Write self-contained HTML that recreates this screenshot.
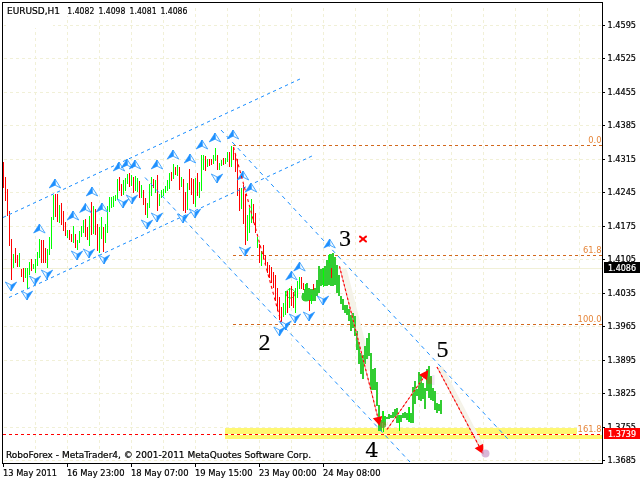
<!DOCTYPE html>
<html><head><meta charset="utf-8"><style>
html,body{margin:0;padding:0;background:#fff;width:640px;height:480px;overflow:hidden}
svg{display:block}
text{white-space:pre}
text.s{stroke:currentColor;stroke-width:0.2}
</style></head><body>
<svg width="640" height="480" viewBox="0 0 640 480" shape-rendering="crispEdges">
<g fill="#f1f0d7" color="#f1f0d7"><path d="M4 25.5H602" stroke-dasharray="3 3" stroke="currentColor" stroke-width="1"/><path d="M4 58.5H602" stroke-dasharray="3 3" stroke="currentColor" stroke-width="1"/><path d="M4 92.5H602" stroke-dasharray="3 3" stroke="currentColor" stroke-width="1"/><path d="M4 125.5H602" stroke-dasharray="3 3" stroke="currentColor" stroke-width="1"/><path d="M4 159.5H602" stroke-dasharray="3 3" stroke="currentColor" stroke-width="1"/><path d="M4 192.5H602" stroke-dasharray="3 3" stroke="currentColor" stroke-width="1"/><path d="M4 226.5H602" stroke-dasharray="3 3" stroke="currentColor" stroke-width="1"/><path d="M4 259.5H602" stroke-dasharray="3 3" stroke="currentColor" stroke-width="1"/><path d="M4 293.5H602" stroke-dasharray="3 3" stroke="currentColor" stroke-width="1"/><path d="M4 326.5H602" stroke-dasharray="3 3" stroke="currentColor" stroke-width="1"/><path d="M4 360.5H602" stroke-dasharray="3 3" stroke="currentColor" stroke-width="1"/><path d="M4 393.5H602" stroke-dasharray="3 3" stroke="currentColor" stroke-width="1"/><path d="M4 427.5H602" stroke-dasharray="3 3" stroke="currentColor" stroke-width="1"/><path d="M4 460.5H602" stroke-dasharray="3 3" stroke="currentColor" stroke-width="1"/><path d="M35.5 8V463" stroke-dasharray="3 3" stroke="currentColor"/><path d="M67.5 8V463" stroke-dasharray="3 3" stroke="currentColor"/><path d="M99.5 8V463" stroke-dasharray="3 3" stroke="currentColor"/><path d="M131.5 8V463" stroke-dasharray="3 3" stroke="currentColor"/><path d="M163.5 8V463" stroke-dasharray="3 3" stroke="currentColor"/><path d="M195.5 8V463" stroke-dasharray="3 3" stroke="currentColor"/><path d="M227.5 8V463" stroke-dasharray="3 3" stroke="currentColor"/><path d="M259.5 8V463" stroke-dasharray="3 3" stroke="currentColor"/><path d="M291.5 8V463" stroke-dasharray="3 3" stroke="currentColor"/><path d="M323.5 8V463" stroke-dasharray="3 3" stroke="currentColor"/><path d="M355.5 8V463" stroke-dasharray="3 3" stroke="currentColor"/><path d="M387.5 8V463" stroke-dasharray="3 3" stroke="currentColor"/><path d="M419.5 8V463" stroke-dasharray="3 3" stroke="currentColor"/><path d="M451.5 8V463" stroke-dasharray="3 3" stroke="currentColor"/><path d="M483.5 8V463" stroke-dasharray="3 3" stroke="currentColor"/><path d="M515.5 8V463" stroke-dasharray="3 3" stroke="currentColor"/><path d="M547.5 8V463" stroke-dasharray="3 3" stroke="currentColor"/><path d="M579.5 8V463" stroke-dasharray="3 3" stroke="currentColor"/></g>
<rect x="6" y="3" width="47" height="25" fill="#fff"/>
<rect x="6" y="3" width="186" height="13" fill="#fff"/>
<rect x="3" y="268" width="600" height="1" fill="#f1f0d7"/>
<rect x="225" y="428" width="377" height="11" fill="#fff873"/>
<g fill="#d2691e" color="#d2691e"><path d="M233 145.5H602" stroke-dasharray="3 3" stroke="currentColor" stroke-width="1"/><path d="M233 255.5H602" stroke-dasharray="3 3" stroke="currentColor" stroke-width="1"/><path d="M233 324.5H602" stroke-dasharray="3 3" stroke="currentColor" stroke-width="1"/></g>
<g shape-rendering="auto" stroke="#f5f3e9" stroke-linecap="round" fill="none"><line x1="344.5" y1="271.5" x2="369" y2="368" stroke-width="5.5"/><line x1="441" y1="369" x2="480.5" y2="445" stroke-width="5.5"/></g>
<g fill="#32cd32"><rect x="302" y="292.5" width="2" height="7.5"/><rect x="304" y="289" width="2" height="11.5"/><rect x="306" y="283" width="2" height="17"/><rect x="308" y="288" width="2" height="12"/><rect x="310" y="289" width="2" height="11.5"/><rect x="312" y="289" width="2" height="11.5"/><rect x="314" y="287.5" width="2" height="13.0"/><rect x="316" y="280" width="2" height="16"/><rect x="318" y="266" width="2" height="26.5"/><rect x="320" y="269" width="2" height="17"/><rect x="322" y="268" width="2" height="17"/><rect x="324" y="265.5" width="2" height="20.5"/><rect x="326" y="260" width="2" height="26"/><rect x="328" y="255" width="2" height="30"/><rect x="330" y="254" width="2" height="32"/><rect x="332" y="253" width="2" height="33"/><rect x="334" y="257" width="2" height="28"/><rect x="336" y="265" width="2" height="27.5"/><rect x="338" y="275" width="2" height="21.25"/><rect x="340" y="296" width="2" height="8"/><rect x="342" y="299" width="2" height="11"/><rect x="344" y="305" width="2" height="7.5"/><rect x="346" y="305" width="2" height="10"/><rect x="348" y="309" width="2" height="12"/><rect x="350" y="315" width="2" height="16"/><rect x="352" y="313" width="2" height="14.5"/><rect x="354" y="316" width="2" height="20"/><rect x="356" y="331" width="2" height="19"/><rect x="358" y="342" width="2" height="22"/><rect x="360" y="353" width="2" height="21"/><rect x="362" y="355" width="2" height="24"/><rect x="364" y="346" width="2" height="18"/><rect x="366" y="338" width="2" height="21"/><rect x="368" y="333" width="2" height="23"/><rect x="370" y="353" width="2" height="37"/><rect x="372" y="369" width="2" height="21"/><rect x="374" y="368" width="2" height="22"/><rect x="376" y="382" width="2" height="24"/><rect x="378" y="405" width="2" height="26"/><rect x="380" y="420" width="2" height="11"/><rect x="382" y="410.8" width="2" height="11.699999999999989"/><rect x="384" y="416" width="2" height="9"/><rect x="386" y="416.7" width="2" height="2.3000000000000114"/><rect x="388" y="414" width="2" height="5"/><rect x="390" y="415" width="2" height="3.3000000000000114"/><rect x="392" y="411.7" width="2" height="6.600000000000023"/><rect x="394" y="409" width="2" height="7.699999999999989"/><rect x="396" y="408" width="2" height="14.5"/><rect x="398" y="415" width="2" height="7.5"/><rect x="400" y="415" width="2" height="6.699999999999989"/><rect x="402" y="413.3" width="2" height="5.0"/><rect x="404" y="412" width="2" height="6.300000000000011"/><rect x="406" y="413" width="2" height="7"/><rect x="408" y="407" width="2" height="14.699999999999989"/><rect x="410" y="412.5" width="2" height="10.0"/><rect x="412" y="387" width="2" height="35.5"/><rect x="414" y="381" width="2" height="23"/><rect x="416" y="388.75" width="2" height="7.25"/><rect x="418" y="372" width="2" height="28"/><rect x="420" y="375" width="2" height="26"/><rect x="422" y="382.5" width="2" height="16.25"/><rect x="424" y="387.5" width="2" height="21.25"/><rect x="426" y="368.75" width="2" height="22.25"/><rect x="428" y="366" width="2" height="31.5"/><rect x="430" y="376" width="2" height="24"/><rect x="432" y="387.5" width="2" height="13.5"/><rect x="434" y="391" width="2" height="19"/><rect x="436" y="402.5" width="2" height="10.0"/><rect x="438" y="403.75" width="2" height="7.25"/><rect x="440" y="400" width="2" height="13.75"/></g>
<circle cx="306" cy="297" r="4.6" fill="#32cd32" shape-rendering="auto"/>
<circle cx="290.5" cy="293.5" r="4.5" fill="none" stroke="#32cd32" stroke-width="1" shape-rendering="auto"/>
<g fill="#00ff00"><rect x="13" y="254" width="1" height="14"/><rect x="19" y="253" width="1" height="14"/><rect x="25" y="268" width="1" height="10"/><rect x="27" y="268" width="1" height="21"/><rect x="29" y="262" width="1" height="13"/><rect x="33" y="264" width="1" height="5"/><rect x="35" y="259" width="1" height="14"/><rect x="37" y="252" width="1" height="14"/><rect x="39" y="239" width="1" height="19"/><rect x="47" y="249" width="1" height="19"/><rect x="49" y="237" width="1" height="18"/><rect x="51" y="217" width="1" height="32"/><rect x="53" y="195" width="1" height="25"/><rect x="59" y="205" width="1" height="18"/><rect x="67" y="230" width="1" height="8"/><rect x="73" y="226" width="1" height="17"/><rect x="77" y="240" width="1" height="10"/><rect x="79" y="231" width="1" height="12"/><rect x="81" y="226" width="1" height="11"/><rect x="83" y="220" width="1" height="13"/><rect x="89" y="216" width="1" height="30"/><rect x="93" y="206" width="1" height="28"/><rect x="99" y="227" width="1" height="26"/><rect x="101" y="217" width="1" height="22"/><rect x="105" y="224" width="1" height="19"/><rect x="107" y="206" width="1" height="27"/><rect x="109" y="197" width="1" height="15"/><rect x="111" y="197" width="1" height="11"/><rect x="113" y="196" width="1" height="11"/><rect x="115" y="195" width="1" height="6"/><rect x="117" y="179" width="1" height="21"/><rect x="123" y="180" width="1" height="15"/><rect x="125" y="178" width="1" height="13"/><rect x="127" y="174" width="1" height="10"/><rect x="131" y="175" width="1" height="11"/><rect x="135" y="176" width="1" height="15"/><rect x="137" y="178" width="1" height="14"/><rect x="141" y="185" width="1" height="13"/><rect x="147" y="203" width="1" height="15"/><rect x="149" y="184" width="1" height="24"/><rect x="151" y="177" width="1" height="19"/><rect x="155" y="180" width="1" height="13"/><rect x="159" y="194" width="1" height="12"/><rect x="161" y="190" width="1" height="8"/><rect x="163" y="189" width="1" height="7"/><rect x="165" y="186" width="1" height="7"/><rect x="167" y="180" width="1" height="11"/><rect x="169" y="173" width="1" height="16"/><rect x="173" y="164" width="1" height="15"/><rect x="177" y="165" width="1" height="11"/><rect x="181" y="177" width="1" height="10"/><rect x="187" y="183" width="1" height="27"/><rect x="195" y="178" width="1" height="29"/><rect x="199" y="182" width="1" height="16"/><rect x="201" y="155" width="1" height="36"/><rect x="203" y="155" width="1" height="15"/><rect x="207" y="159" width="1" height="8"/><rect x="213" y="155" width="1" height="9"/><rect x="215" y="148" width="1" height="13"/><rect x="219" y="163" width="1" height="7"/><rect x="221" y="160" width="1" height="6"/><rect x="225" y="158" width="1" height="6"/><rect x="227" y="152" width="1" height="10"/><rect x="231" y="146" width="1" height="21"/><rect x="241" y="188" width="1" height="21"/><rect x="247" y="215" width="1" height="26"/><rect x="249" y="208" width="1" height="25"/><rect x="251" y="199" width="1" height="24"/><rect x="257" y="237" width="1" height="11"/><rect x="261" y="251" width="1" height="15"/><rect x="283" y="303" width="1" height="14"/><rect x="285" y="291" width="1" height="24"/><rect x="289" y="288" width="1" height="20"/><rect x="295" y="288" width="1" height="25"/><rect x="297" y="281" width="1" height="17"/><rect x="299" y="277" width="1" height="12"/><rect x="305" y="284" width="1" height="6"/><rect x="311" y="295" width="1" height="9"/><rect x="323" y="268" width="1" height="19"/><rect x="329" y="254" width="1" height="9"/><rect x="383" y="411" width="1" height="21"/><rect x="399" y="415" width="1" height="16"/><rect x="409" y="407" width="1" height="15"/></g>
<g fill="#ff0000"><rect x="3" y="162" width="1" height="26"/><rect x="5" y="177" width="1" height="24"/><rect x="7" y="189" width="1" height="27"/><rect x="9" y="211" width="1" height="35"/><rect x="11" y="239" width="1" height="41"/><rect x="15" y="248" width="1" height="15"/><rect x="17" y="255" width="1" height="12"/><rect x="21" y="269" width="1" height="8"/><rect x="23" y="268" width="1" height="14"/><rect x="31" y="259" width="1" height="12"/><rect x="41" y="240" width="1" height="23"/><rect x="43" y="240" width="1" height="23"/><rect x="45" y="248" width="1" height="15"/><rect x="55" y="194" width="1" height="23"/><rect x="57" y="194" width="1" height="28"/><rect x="61" y="203" width="1" height="22"/><rect x="63" y="211" width="1" height="20"/><rect x="65" y="222" width="1" height="14"/><rect x="69" y="230" width="1" height="10"/><rect x="71" y="234" width="1" height="8"/><rect x="75" y="234" width="1" height="14"/><rect x="85" y="219" width="1" height="18"/><rect x="87" y="227" width="1" height="13"/><rect x="91" y="202" width="1" height="33"/><rect x="95" y="209" width="1" height="26"/><rect x="97" y="224" width="1" height="27"/><rect x="103" y="227" width="1" height="25"/><rect x="119" y="177" width="1" height="14"/><rect x="121" y="184" width="1" height="12"/><rect x="129" y="173" width="1" height="14"/><rect x="133" y="177" width="1" height="16"/><rect x="139" y="181" width="1" height="17"/><rect x="143" y="190" width="1" height="15"/><rect x="145" y="198" width="1" height="17"/><rect x="153" y="179" width="1" height="9"/><rect x="157" y="175" width="1" height="36"/><rect x="171" y="172" width="1" height="9"/><rect x="175" y="167" width="1" height="8"/><rect x="179" y="167" width="1" height="23"/><rect x="183" y="179" width="1" height="32"/><rect x="185" y="192" width="1" height="21"/><rect x="189" y="169" width="1" height="21"/><rect x="191" y="178" width="1" height="17"/><rect x="193" y="179" width="1" height="25"/><rect x="197" y="173" width="1" height="23"/><rect x="205" y="156" width="1" height="15"/><rect x="209" y="159" width="1" height="7"/><rect x="211" y="159" width="1" height="6"/><rect x="217" y="155" width="1" height="15"/><rect x="223" y="158" width="1" height="7"/><rect x="229" y="152" width="1" height="15"/><rect x="233" y="147" width="1" height="13"/><rect x="235" y="154" width="1" height="18"/><rect x="237" y="159" width="1" height="37"/><rect x="239" y="188" width="1" height="23"/><rect x="243" y="185" width="1" height="39"/><rect x="245" y="194" width="1" height="51"/><rect x="253" y="204" width="1" height="19"/><rect x="255" y="213" width="1" height="20"/><rect x="259" y="244" width="1" height="19"/><rect x="263" y="245" width="1" height="14"/><rect x="265" y="255" width="1" height="9"/><rect x="267" y="262" width="1" height="11"/><rect x="269" y="265" width="1" height="13"/><rect x="271" y="267" width="1" height="16"/><rect x="273" y="272" width="1" height="16"/><rect x="275" y="275" width="1" height="26"/><rect x="277" y="288" width="1" height="23"/><rect x="279" y="297" width="1" height="23"/><rect x="281" y="307" width="1" height="16"/><rect x="287" y="291" width="1" height="22"/><rect x="291" y="286" width="1" height="20"/><rect x="293" y="292" width="1" height="16"/><rect x="301" y="277" width="1" height="12"/><rect x="303" y="283" width="1" height="7"/><rect x="309" y="300" width="1" height="11"/><rect x="313" y="284" width="1" height="6"/><rect x="331" y="268" width="1" height="10"/></g>
<g shape-rendering="auto"><line x1="3" y1="217.5" x2="300" y2="79" stroke="#1e90ff" stroke-width="1" stroke-dasharray="3.31 3.31"/><line x1="9" y1="297.5" x2="312" y2="156" stroke="#1e90ff" stroke-width="1" stroke-dasharray="3.31 3.31"/><line x1="221" y1="130" x2="508.5" y2="439.7" stroke="#1e90ff" stroke-width="1" stroke-dasharray="4.09 4.09"/><line x1="145" y1="177.5" x2="410" y2="462" stroke="#1e90ff" stroke-width="1" stroke-dasharray="4.10 4.10"/></g>
<g shape-rendering="auto"><path d="M11.0 291.0L5.3 282.0L11.2 285.0Z" fill="#f4faff" stroke="#3aa0ff" stroke-width="0.9" stroke-linejoin="round"/><path d="M11.0 291.0L16.7 282.0L11.2 285.0Z" fill="#1e90ff" stroke="#1e90ff" stroke-width="0.6" stroke-linejoin="round"/><path d="M27.0 300.0L21.3 291.0L27.2 294.0Z" fill="#f4faff" stroke="#3aa0ff" stroke-width="0.9" stroke-linejoin="round"/><path d="M27.0 300.0L32.7 291.0L27.2 294.0Z" fill="#1e90ff" stroke="#1e90ff" stroke-width="0.6" stroke-linejoin="round"/><path d="M35.0 285.0L29.3 276.0L35.2 279.0Z" fill="#f4faff" stroke="#3aa0ff" stroke-width="0.9" stroke-linejoin="round"/><path d="M35.0 285.0L40.7 276.0L35.2 279.0Z" fill="#1e90ff" stroke="#1e90ff" stroke-width="0.6" stroke-linejoin="round"/><path d="M47.0 279.0L41.3 270.0L47.2 273.0Z" fill="#f4faff" stroke="#3aa0ff" stroke-width="0.9" stroke-linejoin="round"/><path d="M47.0 279.0L52.7 270.0L47.2 273.0Z" fill="#1e90ff" stroke="#1e90ff" stroke-width="0.6" stroke-linejoin="round"/><path d="M39.4 224.0L45.1 233.0L39.6 230.2Z" fill="#f4faff" stroke="#3aa0ff" stroke-width="0.9" stroke-linejoin="round"/><path d="M39.4 224.0L33.6 233.0L39.6 230.2Z" fill="#1e90ff" stroke="#1e90ff" stroke-width="0.6" stroke-linejoin="round"/><path d="M55.0 179.0L60.7 188.0L55.2 185.2Z" fill="#f4faff" stroke="#3aa0ff" stroke-width="0.9" stroke-linejoin="round"/><path d="M55.0 179.0L49.2 188.0L55.2 185.2Z" fill="#1e90ff" stroke="#1e90ff" stroke-width="0.6" stroke-linejoin="round"/><path d="M73.0 211.0L78.7 220.0L73.2 217.2Z" fill="#f4faff" stroke="#3aa0ff" stroke-width="0.9" stroke-linejoin="round"/><path d="M73.0 211.0L67.2 220.0L73.2 217.2Z" fill="#1e90ff" stroke="#1e90ff" stroke-width="0.6" stroke-linejoin="round"/><path d="M85.4 203.5L91.1 212.5L85.6 209.7Z" fill="#f4faff" stroke="#3aa0ff" stroke-width="0.9" stroke-linejoin="round"/><path d="M85.4 203.5L79.6 212.5L85.6 209.7Z" fill="#1e90ff" stroke="#1e90ff" stroke-width="0.6" stroke-linejoin="round"/><path d="M92.0 187.0L97.7 196.0L92.2 193.2Z" fill="#f4faff" stroke="#3aa0ff" stroke-width="0.9" stroke-linejoin="round"/><path d="M92.0 187.0L86.2 196.0L92.2 193.2Z" fill="#1e90ff" stroke="#1e90ff" stroke-width="0.6" stroke-linejoin="round"/><path d="M102.0 203.0L107.7 212.0L102.2 209.2Z" fill="#f4faff" stroke="#3aa0ff" stroke-width="0.9" stroke-linejoin="round"/><path d="M102.0 203.0L96.2 212.0L102.2 209.2Z" fill="#1e90ff" stroke="#1e90ff" stroke-width="0.6" stroke-linejoin="round"/><path d="M119.0 162.0L124.7 171.0L119.2 168.2Z" fill="#f4faff" stroke="#3aa0ff" stroke-width="0.9" stroke-linejoin="round"/><path d="M119.0 162.0L113.2 171.0L119.2 168.2Z" fill="#1e90ff" stroke="#1e90ff" stroke-width="0.6" stroke-linejoin="round"/><path d="M127.0 159.0L132.7 168.0L127.2 165.2Z" fill="#f4faff" stroke="#3aa0ff" stroke-width="0.9" stroke-linejoin="round"/><path d="M127.0 159.0L121.2 168.0L127.2 165.2Z" fill="#1e90ff" stroke="#1e90ff" stroke-width="0.6" stroke-linejoin="round"/><path d="M135.0 160.0L140.7 169.0L135.2 166.2Z" fill="#f4faff" stroke="#3aa0ff" stroke-width="0.9" stroke-linejoin="round"/><path d="M135.0 160.0L129.2 169.0L135.2 166.2Z" fill="#1e90ff" stroke="#1e90ff" stroke-width="0.6" stroke-linejoin="round"/><path d="M77.0 260.0L71.3 251.0L77.2 254.0Z" fill="#f4faff" stroke="#3aa0ff" stroke-width="0.9" stroke-linejoin="round"/><path d="M77.0 260.0L82.7 251.0L77.2 254.0Z" fill="#1e90ff" stroke="#1e90ff" stroke-width="0.6" stroke-linejoin="round"/><path d="M89.0 258.0L83.3 249.0L89.2 252.0Z" fill="#f4faff" stroke="#3aa0ff" stroke-width="0.9" stroke-linejoin="round"/><path d="M89.0 258.0L94.7 249.0L89.2 252.0Z" fill="#1e90ff" stroke="#1e90ff" stroke-width="0.6" stroke-linejoin="round"/><path d="M104.0 264.0L98.3 255.0L104.2 258.0Z" fill="#f4faff" stroke="#3aa0ff" stroke-width="0.9" stroke-linejoin="round"/><path d="M104.0 264.0L109.7 255.0L104.2 258.0Z" fill="#1e90ff" stroke="#1e90ff" stroke-width="0.6" stroke-linejoin="round"/><path d="M123.0 208.0L117.3 199.0L123.2 202.0Z" fill="#f4faff" stroke="#3aa0ff" stroke-width="0.9" stroke-linejoin="round"/><path d="M123.0 208.0L128.7 199.0L123.2 202.0Z" fill="#1e90ff" stroke="#1e90ff" stroke-width="0.6" stroke-linejoin="round"/><path d="M157.0 160.0L162.7 169.0L157.2 166.2Z" fill="#f4faff" stroke="#3aa0ff" stroke-width="0.9" stroke-linejoin="round"/><path d="M157.0 160.0L151.2 169.0L157.2 166.2Z" fill="#1e90ff" stroke="#1e90ff" stroke-width="0.6" stroke-linejoin="round"/><path d="M173.0 150.0L178.7 159.0L173.2 156.2Z" fill="#f4faff" stroke="#3aa0ff" stroke-width="0.9" stroke-linejoin="round"/><path d="M173.0 150.0L167.2 159.0L173.2 156.2Z" fill="#1e90ff" stroke="#1e90ff" stroke-width="0.6" stroke-linejoin="round"/><path d="M190.0 154.0L195.7 163.0L190.2 160.2Z" fill="#f4faff" stroke="#3aa0ff" stroke-width="0.9" stroke-linejoin="round"/><path d="M190.0 154.0L184.2 163.0L190.2 160.2Z" fill="#1e90ff" stroke="#1e90ff" stroke-width="0.6" stroke-linejoin="round"/><path d="M202.0 140.0L207.7 149.0L202.2 146.2Z" fill="#f4faff" stroke="#3aa0ff" stroke-width="0.9" stroke-linejoin="round"/><path d="M202.0 140.0L196.2 149.0L202.2 146.2Z" fill="#1e90ff" stroke="#1e90ff" stroke-width="0.6" stroke-linejoin="round"/><path d="M132.0 204.0L126.3 195.0L132.2 198.0Z" fill="#f4faff" stroke="#3aa0ff" stroke-width="0.9" stroke-linejoin="round"/><path d="M132.0 204.0L137.7 195.0L132.2 198.0Z" fill="#1e90ff" stroke="#1e90ff" stroke-width="0.6" stroke-linejoin="round"/><path d="M147.0 229.0L141.3 220.0L147.2 223.0Z" fill="#f4faff" stroke="#3aa0ff" stroke-width="0.9" stroke-linejoin="round"/><path d="M147.0 229.0L152.7 220.0L147.2 223.0Z" fill="#1e90ff" stroke="#1e90ff" stroke-width="0.6" stroke-linejoin="round"/><path d="M157.0 222.0L151.3 213.0L157.2 216.0Z" fill="#f4faff" stroke="#3aa0ff" stroke-width="0.9" stroke-linejoin="round"/><path d="M157.0 222.0L162.7 213.0L157.2 216.0Z" fill="#1e90ff" stroke="#1e90ff" stroke-width="0.6" stroke-linejoin="round"/><path d="M183.0 223.0L177.3 214.0L183.2 217.0Z" fill="#f4faff" stroke="#3aa0ff" stroke-width="0.9" stroke-linejoin="round"/><path d="M183.0 223.0L188.7 214.0L183.2 217.0Z" fill="#1e90ff" stroke="#1e90ff" stroke-width="0.6" stroke-linejoin="round"/><path d="M195.0 218.0L189.3 209.0L195.2 212.0Z" fill="#f4faff" stroke="#3aa0ff" stroke-width="0.9" stroke-linejoin="round"/><path d="M195.0 218.0L200.7 209.0L195.2 212.0Z" fill="#1e90ff" stroke="#1e90ff" stroke-width="0.6" stroke-linejoin="round"/><path d="M215.0 133.0L220.7 142.0L215.2 139.2Z" fill="#f4faff" stroke="#3aa0ff" stroke-width="0.9" stroke-linejoin="round"/><path d="M215.0 133.0L209.2 142.0L215.2 139.2Z" fill="#1e90ff" stroke="#1e90ff" stroke-width="0.6" stroke-linejoin="round"/><path d="M233.0 130.0L238.7 139.0L233.2 136.2Z" fill="#f4faff" stroke="#3aa0ff" stroke-width="0.9" stroke-linejoin="round"/><path d="M233.0 130.0L227.2 139.0L233.2 136.2Z" fill="#1e90ff" stroke="#1e90ff" stroke-width="0.6" stroke-linejoin="round"/><path d="M217.0 183.0L211.3 174.0L217.2 177.0Z" fill="#f4faff" stroke="#3aa0ff" stroke-width="0.9" stroke-linejoin="round"/><path d="M217.0 183.0L222.7 174.0L217.2 177.0Z" fill="#1e90ff" stroke="#1e90ff" stroke-width="0.6" stroke-linejoin="round"/><path d="M243.0 171.0L248.7 180.0L243.2 177.2Z" fill="#f4faff" stroke="#3aa0ff" stroke-width="0.9" stroke-linejoin="round"/><path d="M243.0 171.0L237.2 180.0L243.2 177.2Z" fill="#1e90ff" stroke="#1e90ff" stroke-width="0.6" stroke-linejoin="round"/><path d="M251.0 183.0L256.7 192.0L251.2 189.2Z" fill="#f4faff" stroke="#3aa0ff" stroke-width="0.9" stroke-linejoin="round"/><path d="M251.0 183.0L245.2 192.0L251.2 189.2Z" fill="#1e90ff" stroke="#1e90ff" stroke-width="0.6" stroke-linejoin="round"/><path d="M245.0 256.0L239.3 247.0L245.2 250.0Z" fill="#f4faff" stroke="#3aa0ff" stroke-width="0.9" stroke-linejoin="round"/><path d="M245.0 256.0L250.7 247.0L245.2 250.0Z" fill="#1e90ff" stroke="#1e90ff" stroke-width="0.6" stroke-linejoin="round"/><path d="M291.5 271.0L297.2 280.0L291.7 277.2Z" fill="#f4faff" stroke="#3aa0ff" stroke-width="0.9" stroke-linejoin="round"/><path d="M291.5 271.0L285.7 280.0L291.7 277.2Z" fill="#1e90ff" stroke="#1e90ff" stroke-width="0.6" stroke-linejoin="round"/><path d="M299.5 262.0L305.2 271.0L299.7 268.2Z" fill="#f4faff" stroke="#3aa0ff" stroke-width="0.9" stroke-linejoin="round"/><path d="M299.5 262.0L293.7 271.0L299.7 268.2Z" fill="#1e90ff" stroke="#1e90ff" stroke-width="0.6" stroke-linejoin="round"/><path d="M329.6 239.0L335.3 248.0L329.8 245.2Z" fill="#f4faff" stroke="#3aa0ff" stroke-width="0.9" stroke-linejoin="round"/><path d="M329.6 239.0L323.8 248.0L329.8 245.2Z" fill="#1e90ff" stroke="#1e90ff" stroke-width="0.6" stroke-linejoin="round"/><path d="M323.0 305.0L317.3 296.0L323.2 299.0Z" fill="#f4faff" stroke="#3aa0ff" stroke-width="0.9" stroke-linejoin="round"/><path d="M323.0 305.0L328.7 296.0L323.2 299.0Z" fill="#1e90ff" stroke="#1e90ff" stroke-width="0.6" stroke-linejoin="round"/><path d="M309.0 321.0L303.3 312.0L309.2 315.0Z" fill="#f4faff" stroke="#3aa0ff" stroke-width="0.9" stroke-linejoin="round"/><path d="M309.0 321.0L314.7 312.0L309.2 315.0Z" fill="#1e90ff" stroke="#1e90ff" stroke-width="0.6" stroke-linejoin="round"/><path d="M295.0 323.0L289.3 314.0L295.2 317.0Z" fill="#f4faff" stroke="#3aa0ff" stroke-width="0.9" stroke-linejoin="round"/><path d="M295.0 323.0L300.7 314.0L295.2 317.0Z" fill="#1e90ff" stroke="#1e90ff" stroke-width="0.6" stroke-linejoin="round"/><path d="M285.5 330.0L279.8 321.0L285.7 324.0Z" fill="#f4faff" stroke="#3aa0ff" stroke-width="0.9" stroke-linejoin="round"/><path d="M285.5 330.0L291.2 321.0L285.7 324.0Z" fill="#1e90ff" stroke="#1e90ff" stroke-width="0.6" stroke-linejoin="round"/><path d="M279.5 336.0L273.8 327.0L279.7 330.0Z" fill="#f4faff" stroke="#3aa0ff" stroke-width="0.9" stroke-linejoin="round"/><path d="M279.5 336.0L285.2 327.0L279.7 330.0Z" fill="#1e90ff" stroke="#1e90ff" stroke-width="0.6" stroke-linejoin="round"/></g>
<g shape-rendering="auto" fill="none"><line x1="233.5" y1="147" x2="281" y2="322" stroke="#ff0000" stroke-width="1.1" stroke-dasharray="3 3"/><line x1="339.5" y1="266.4" x2="378" y2="418" stroke="#f09090" stroke-width="1"/><line x1="339.5" y1="266.4" x2="378" y2="418" stroke="#ff0000" stroke-width="1.1" stroke-dasharray="2.3 2.3"/><line x1="387" y1="429.5" x2="424" y2="377" stroke="#f09090" stroke-width="1"/><line x1="387" y1="429.5" x2="424" y2="377" stroke="#ff0000" stroke-width="1.1" stroke-dasharray="2.3 2.3"/><line x1="437" y1="367" x2="479" y2="446" stroke="#f09090" stroke-width="1"/><line x1="437" y1="367" x2="479" y2="446" stroke="#ff0000" stroke-width="1.1" stroke-dasharray="2.3 2.3"/></g>
<g fill="#ff0000" shape-rendering="auto"><path d="M379.8 426.0L372.9 418.3L382.2 415.9Z"/><path d="M428.3 370.0L427.0 380.3L419.1 374.8Z"/><path d="M483.3 454.2L474.7 448.3L483.2 443.8Z"/></g>
<g shape-rendering="auto"><circle cx="383" cy="424.7" r="3.2" fill="#6b9a2a" opacity="0.85"/><rect x="427" y="377" width="5" height="7" rx="1.5" fill="#6b9a2a" opacity="0.85"/><circle cx="485.5" cy="453.5" r="4" fill="#c898c8" opacity="0.7"/><rect x="432" y="375" width="2.5" height="10" fill="#ecdcf0" opacity="0.7"/></g>
<text x="264.5" y="350" text-anchor="middle" font-size="24" font-family="'Liberation Serif','DejaVu Serif',serif" fill="#000" stroke="#000" stroke-width="0.15">2</text>
<text x="344.9" y="245.5" text-anchor="middle" font-size="24" font-family="'Liberation Serif','DejaVu Serif',serif" fill="#000" stroke="#000" stroke-width="0.15">3</text>
<text x="372" y="457" text-anchor="middle" font-size="21" font-family="'DejaVu Serif','Liberation Serif',serif" fill="#000" stroke="#000" stroke-width="0.15">4</text>
<text x="442.4" y="357" text-anchor="middle" font-size="24" font-family="'Liberation Serif','DejaVu Serif',serif" fill="#000" stroke="#000" stroke-width="0.15">5</text>
<g stroke="#ff0000" stroke-width="2" shape-rendering="auto" stroke-linecap="round"><line x1="360" y1="236.5" x2="366" y2="241.5"/><line x1="366" y1="236.5" x2="360" y2="241.5"/></g>
<rect x="587" y="133" width="15" height="12" fill="#fff"/>
<text x="601.5" y="143" text-anchor="end" fill="#e6863a" font-size="9.3" font-family="'DejaVu Sans Condensed','Liberation Sans',sans-serif">0.0</text>
<rect x="582" y="243" width="20" height="12" fill="#fff"/>
<text x="601.5" y="253" text-anchor="end" fill="#e6863a" font-size="9.3" font-family="'DejaVu Sans Condensed','Liberation Sans',sans-serif">61.8</text>
<rect x="577" y="312" width="25" height="12" fill="#fff"/>
<text x="601.5" y="322" text-anchor="end" fill="#e6863a" font-size="9.3" font-family="'DejaVu Sans Condensed','Liberation Sans',sans-serif">100.0</text>
<rect x="577" y="422" width="25" height="12" fill="#fff"/>
<text x="601.5" y="432" text-anchor="end" fill="#e6863a" font-size="9.3" font-family="'DejaVu Sans Condensed','Liberation Sans',sans-serif">161.8</text>
<rect x="225" y="434" width="377" height="1" fill="#fff"/>
<g fill="#ff0000" color="#ff0000"><path d="M3 434.5H602" stroke-dasharray="3 3" stroke="currentColor" stroke-width="1"/></g>
<g fill="#000"><rect x="2" y="2" width="601" height="1"/><rect x="2" y="463" width="601" height="1"/><rect x="2" y="2" width="1" height="462"/><rect x="602" y="2" width="1" height="462"/></g>
<g fill="#000"><rect x="603" y="25" width="2" height="1"/><rect x="603" y="58" width="2" height="1"/><rect x="603" y="92" width="2" height="1"/><rect x="603" y="125" width="2" height="1"/><rect x="603" y="159" width="2" height="1"/><rect x="603" y="192" width="2" height="1"/><rect x="603" y="226" width="2" height="1"/><rect x="603" y="259" width="2" height="1"/><rect x="603" y="293" width="2" height="1"/><rect x="603" y="326" width="2" height="1"/><rect x="603" y="360" width="2" height="1"/><rect x="603" y="393" width="2" height="1"/><rect x="603" y="427" width="2" height="1"/><rect x="603" y="460" width="2" height="1"/><rect x="3" y="464" width="1" height="3"/><rect x="67" y="464" width="1" height="3"/><rect x="131" y="464" width="1" height="3"/><rect x="195" y="464" width="1" height="3"/><rect x="259" y="464" width="1" height="3"/><rect x="323" y="464" width="1" height="3"/></g>
<text x="607.5" y="28" fill="#000" color="#000" class="s" font-size="9.3" font-family="'DejaVu Sans Condensed','Liberation Sans',sans-serif" textLength="28.5" lengthAdjust="spacingAndGlyphs">1.4595</text>
<text x="607.5" y="61" fill="#000" color="#000" class="s" font-size="9.3" font-family="'DejaVu Sans Condensed','Liberation Sans',sans-serif" textLength="28.5" lengthAdjust="spacingAndGlyphs">1.4525</text>
<text x="607.5" y="95" fill="#000" color="#000" class="s" font-size="9.3" font-family="'DejaVu Sans Condensed','Liberation Sans',sans-serif" textLength="28.5" lengthAdjust="spacingAndGlyphs">1.4455</text>
<text x="607.5" y="128" fill="#000" color="#000" class="s" font-size="9.3" font-family="'DejaVu Sans Condensed','Liberation Sans',sans-serif" textLength="28.5" lengthAdjust="spacingAndGlyphs">1.4385</text>
<text x="607.5" y="162" fill="#000" color="#000" class="s" font-size="9.3" font-family="'DejaVu Sans Condensed','Liberation Sans',sans-serif" textLength="28.5" lengthAdjust="spacingAndGlyphs">1.4315</text>
<text x="607.5" y="195" fill="#000" color="#000" class="s" font-size="9.3" font-family="'DejaVu Sans Condensed','Liberation Sans',sans-serif" textLength="28.5" lengthAdjust="spacingAndGlyphs">1.4245</text>
<text x="607.5" y="229" fill="#000" color="#000" class="s" font-size="9.3" font-family="'DejaVu Sans Condensed','Liberation Sans',sans-serif" textLength="28.5" lengthAdjust="spacingAndGlyphs">1.4175</text>
<text x="607.5" y="262" fill="#000" color="#000" class="s" font-size="9.3" font-family="'DejaVu Sans Condensed','Liberation Sans',sans-serif" textLength="28.5" lengthAdjust="spacingAndGlyphs">1.4105</text>
<text x="607.5" y="296" fill="#000" color="#000" class="s" font-size="9.3" font-family="'DejaVu Sans Condensed','Liberation Sans',sans-serif" textLength="28.5" lengthAdjust="spacingAndGlyphs">1.4035</text>
<text x="607.5" y="329" fill="#000" color="#000" class="s" font-size="9.3" font-family="'DejaVu Sans Condensed','Liberation Sans',sans-serif" textLength="28.5" lengthAdjust="spacingAndGlyphs">1.3965</text>
<text x="607.5" y="363" fill="#000" color="#000" class="s" font-size="9.3" font-family="'DejaVu Sans Condensed','Liberation Sans',sans-serif" textLength="28.5" lengthAdjust="spacingAndGlyphs">1.3895</text>
<text x="607.5" y="396" fill="#000" color="#000" class="s" font-size="9.3" font-family="'DejaVu Sans Condensed','Liberation Sans',sans-serif" textLength="28.5" lengthAdjust="spacingAndGlyphs">1.3825</text>
<text x="607.5" y="430" fill="#000" color="#000" class="s" font-size="9.3" font-family="'DejaVu Sans Condensed','Liberation Sans',sans-serif" textLength="28.5" lengthAdjust="spacingAndGlyphs">1.3755</text>
<text x="607.5" y="463" fill="#000" color="#000" class="s" font-size="9.3" font-family="'DejaVu Sans Condensed','Liberation Sans',sans-serif" textLength="28.5" lengthAdjust="spacingAndGlyphs">1.3685</text>
<rect x="604" y="262" width="36" height="11" fill="#000"/>
<text x="608" y="271" fill="#fff" color="#fff" class="s" font-size="9.3" font-family="'DejaVu Sans Condensed','Liberation Sans',sans-serif" textLength="28" lengthAdjust="spacingAndGlyphs">1.4086</text>
<rect x="604" y="428" width="36" height="11" fill="#ff0000"/>
<text x="608" y="437" fill="#fff" color="#fff" class="s" font-size="9.3" font-family="'DejaVu Sans Condensed','Liberation Sans',sans-serif" textLength="28" lengthAdjust="spacingAndGlyphs">1.3739</text>
<text x="3" y="476" fill="#000" color="#000" class="s" font-size="9.3" font-family="'DejaVu Sans Condensed','Liberation Sans',sans-serif" textLength="54" lengthAdjust="spacingAndGlyphs">13 May 2011</text>
<text x="67" y="476" fill="#000" color="#000" class="s" font-size="9.3" font-family="'DejaVu Sans Condensed','Liberation Sans',sans-serif" textLength="57.5" lengthAdjust="spacingAndGlyphs">16 May 23:00</text>
<text x="131" y="476" fill="#000" color="#000" class="s" font-size="9.3" font-family="'DejaVu Sans Condensed','Liberation Sans',sans-serif" textLength="57.5" lengthAdjust="spacingAndGlyphs">18 May 07:00</text>
<text x="195" y="476" fill="#000" color="#000" class="s" font-size="9.3" font-family="'DejaVu Sans Condensed','Liberation Sans',sans-serif" textLength="57.5" lengthAdjust="spacingAndGlyphs">19 May 15:00</text>
<text x="259" y="476" fill="#000" color="#000" class="s" font-size="9.3" font-family="'DejaVu Sans Condensed','Liberation Sans',sans-serif" textLength="57.5" lengthAdjust="spacingAndGlyphs">23 May 00:00</text>
<text x="323" y="476" fill="#000" color="#000" class="s" font-size="9.3" font-family="'DejaVu Sans Condensed','Liberation Sans',sans-serif" textLength="57.5" lengthAdjust="spacingAndGlyphs">24 May 08:00</text>
<text x="7" y="14" fill="#000" color="#000" class="s" font-size="9.3" font-family="'DejaVu Sans Condensed','Liberation Sans',sans-serif" textLength="53" lengthAdjust="spacingAndGlyphs">EURUSD,H1</text>
<text x="67.3" y="14" fill="#000" color="#000" class="s" font-size="9.3" font-family="'DejaVu Sans Condensed','Liberation Sans',sans-serif" textLength="27" lengthAdjust="spacingAndGlyphs">1.4082</text>
<text x="98.4" y="14" fill="#000" color="#000" class="s" font-size="9.3" font-family="'DejaVu Sans Condensed','Liberation Sans',sans-serif" textLength="27" lengthAdjust="spacingAndGlyphs">1.4098</text>
<text x="129.6" y="14" fill="#000" color="#000" class="s" font-size="9.3" font-family="'DejaVu Sans Condensed','Liberation Sans',sans-serif" textLength="27" lengthAdjust="spacingAndGlyphs">1.4081</text>
<text x="160.4" y="14" fill="#000" color="#000" class="s" font-size="9.3" font-family="'DejaVu Sans Condensed','Liberation Sans',sans-serif" textLength="27" lengthAdjust="spacingAndGlyphs">1.4086</text>
<text x="6" y="458" fill="#000" color="#000" class="s" font-size="9.3" font-family="'DejaVu Sans Condensed','Liberation Sans',sans-serif" textLength="305" lengthAdjust="spacingAndGlyphs">RoboForex - MetaTrader4, © 2001-2011 MetaQuotes Software Corp.</text>
</svg>
</body></html>
